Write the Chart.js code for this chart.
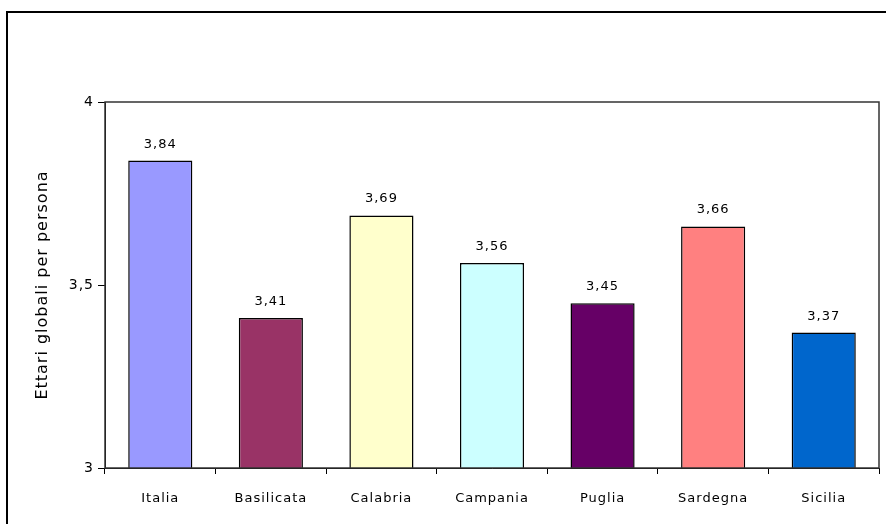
<!DOCTYPE html>
<html>
<head>
<meta charset="utf-8">
<script src="https://cdn.jsdelivr.net/npm/chart.js@4"></script>
<style>
    html, body { margin: 0; padding: 0; background: #fff; }
    .wrap { width: 886px; height: 524px; }
</style>
</head>
<body>
<div class="wrap"><canvas class="eco-chart"></canvas></div>
<script>
const regioni = ['Italia', 'Basilicata', 'Calabria', 'Campania', 'Puglia', 'Sardegna', 'Sicilia'];
const ettari = [3.84, 3.41, 3.69, 3.56, 3.45, 3.66, 3.37];
const colori = ['#9999ff', '#993366', '#ffffcc', '#ccffff', '#660066', '#ff8080', '#0066cc'];
const yTicks = [3, 3.5, 4];

const ctx = document.querySelector('.eco-chart');
const fam = 'DejaVu Sans, sans-serif';
const font = { family: fam, size: 13 };

// comma decimals, italian style
const fmt = v => String(v).replace('.', ',');

// the old excel look has loose letters
const spacing = {
    id: 'spacing',
    beforeLayout(chart) { chart.ctx.letterSpacing = '1px'; },
    beforeDraw(chart) { chart.ctx.letterSpacing = '1px'; }
};

// outer frame + plot box + value labels
const extras = {
    id: 'extras',
    afterDraw(chart) {
        const c = chart.ctx;
        const a = chart.chartArea;
        c.save();
        c.strokeStyle = '#000';
        c.lineWidth = 2;
        c.beginPath();
        c.moveTo(7, 524);
        c.lineTo(7, 12);
        c.lineTo(886, 12);
        c.stroke();

        c.strokeStyle = '#333';
        c.lineWidth = 1.5;
        c.strokeRect(a.left, a.top, a.right - a.left, a.bottom - a.top);

        c.fillStyle = '#000';
        c.font = '13px ' + fam;
        c.letterSpacing = '1px';
        c.textAlign = 'center';
        c.textBaseline = 'alphabetic';
        chart.getDatasetMeta(0).data.forEach((bar, i) => {
            c.fillText(fmt(ettari[i]), bar.x, bar.y - 13);
        });
        c.restore();
    }
};

new Chart(ctx, {
    type: 'bar',
    data: {
        labels: regioni,
        datasets: [{
            data: ettari,
            backgroundColor: colori,
            borderColor: '#000',
            borderWidth: 1.5,
            borderSkipped: false,
            categoryPercentage: 1,
            barPercentage: 0.58
        }]
    },
    options: {
        responsive: true,
        maintainAspectRatio: false,
        animation: false,
        layout: {
            padding: { top: 102, right: 7, left: 27, bottom: 0 }
        },
        scales: {
            x: {
                offset: true,
                grid: {
                    display: true,
                    offset: true,
                    drawOnChartArea: false,
                    tickLength: 6,
                    color: '#000'
                },
                border: { display: true, color: '#000', width: 1 },
                ticks: { color: '#000', font: font, padding: 17 },
                afterFit(scale) { scale.height = 56; }
            },
            y: {
                min: 3,
                max: 4,
                afterBuildTicks(scale) {
                    scale.ticks = yTicks.map(v => ({ value: v }));
                },
                grid: {
                    display: true,
                    drawOnChartArea: false,
                    tickLength: 7,
                    color: '#000'
                },
                border: { display: true, color: '#000', width: 1 },
                ticks: {
                    color: '#000',
                    font: { family: fam, size: 14 },
                    padding: 4,
                    callback: v => fmt(v)
                },
                title: {
                    display: true,
                    text: 'Ettari globali per persona',
                    color: '#000',
                    font: { family: fam, size: 16 },
                    padding: { top: 6, bottom: 0 }
                },
                afterFit(scale) { scale.width = 78; }
            }
        },
        plugins: {
            legend: { display: false },
            tooltip: { enabled: false }
        }
    },
    plugins: [spacing, extras]
});
</script>
</body>
</html>
